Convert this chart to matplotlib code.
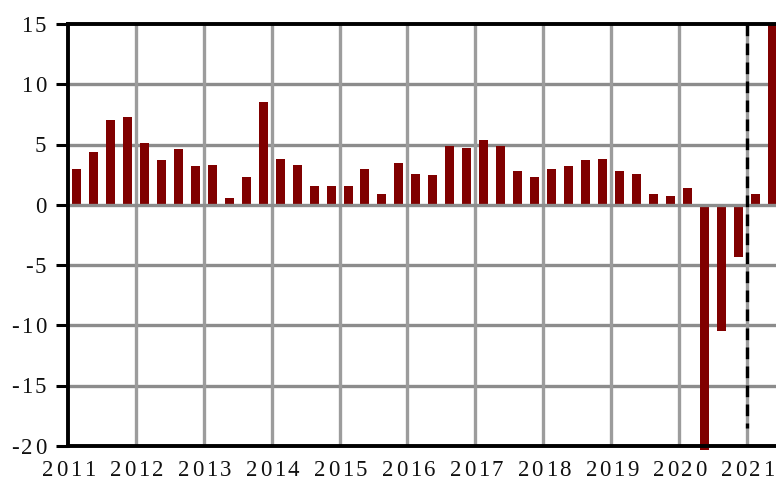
import numpy as np
import matplotlib as mpl
mpl.use('Agg')
import matplotlib.pyplot as plt
from matplotlib.transforms import ScaledTranslation

# quarterly values, 2011Q1 .. 2021Q2
values = [3.0, 4.4, 7.0, 7.3, 5.1, 3.7, 4.6, 3.2, 3.3, 0.6, 2.3, 8.5,
          3.8, 3.3, 1.6, 1.6, 1.6, 3.0, 0.9, 3.5, 2.6, 2.5, 4.9, 4.7,
          5.4, 4.9, 2.8, 2.3, 3.0, 3.2, 3.7, 3.8, 2.8, 2.6, 0.9, 0.7,
          1.4, -20.3, -10.5, -4.3, 0.9, 16.0]
years = ['2011', '2012', '2013', '2014', '2015', '2016',
         '2017', '2018', '2019', '2020', '2021']
yticks = [15, 10, 5, 0, -5, -10, -15, -20]

plt.rc('font', family='Liberation Serif')
ftsize = 16.5
spacing = 1.8   # extra letter spacing in points

W, H = 776, 482
fig = plt.figure(figsize=(W / 100, H / 100), dpi=100)
ax = fig.add_axes([68 / W, 36 / H, 708 / W, 422 / H])

bar_col = '#800000'
grid_h = '#8c8c8c'
grid_v = '#9c9c9c'

x = np.arange(len(values)) + 0.5
for xi, v in zip(x, values):
    ax.bar(xi, v, width=0.53, color=bar_col, zorder=3,
           clip_on=(v > 0))

# gridlines
for yy in yticks[1:-1]:
    ax.axhline(yy, color=grid_h, lw=2.4, zorder=1 if yy != 0 else 4)
xpos = np.arange(len(years)) * 4
for xx in xpos[1:]:
    ax.axvline(xx, color=grid_v, lw=2.4, zorder=1)

# dashed marker line at 2021
ax.plot([40, 40], [15, -18.5], color='black', lw=2.4,
        ls=(0, (3.5, 2.2)), zorder=5)

ax.set_xlim(0, 708 / 16.97)
ax.set_ylim(-20, 15)

ax.set_yticks(yticks)
ax.set_yticklabels([])
ax.set_xticks(xpos)
ax.set_xticklabels([])

ax.tick_params(axis='y', direction='out', length=8.6, width=2.2,
               color='black')
ax.tick_params(axis='x', length=0)


def spaced_label(s, trans, xv, yv, dx, dy, align):
    # draw text char by char to get the wide letter spacing
    adv = [0.333 * ftsize if c == '-' else 0.5 * ftsize for c in s]
    total = sum(adv) + spacing * (len(s) - 1)
    cur = -total / 2 if align == 'center' else -total
    for c, a in zip(s, adv):
        off = ScaledTranslation((cur + a / 2 + dx) / 72, dy / 72,
                                fig.dpi_scale_trans)
        ax.text(xv, yv, c, transform=trans + off, ha='center',
                va='baseline', fontsize=ftsize, clip_on=False,
                fontfamily='Liberation Serif', color='#111111')
        cur += a + spacing


for t in yticks:
    spaced_label(str(t), ax.get_yaxis_transform(), 0, t,
                 -15.6, -5.6, 'right')
for xx, yr in zip(xpos, years):
    spaced_label(yr, ax.get_xaxis_transform(), xx, 0,
                 0.8, -21.4, 'center')

for s in ['left', 'top', 'bottom']:
    ax.spines[s].set_linewidth(2.8)
    ax.spines[s].set_color('black')
    ax.spines[s].set_zorder(6)
ax.spines['right'].set_visible(False)

plt.savefig('out.png', dpi=100)
